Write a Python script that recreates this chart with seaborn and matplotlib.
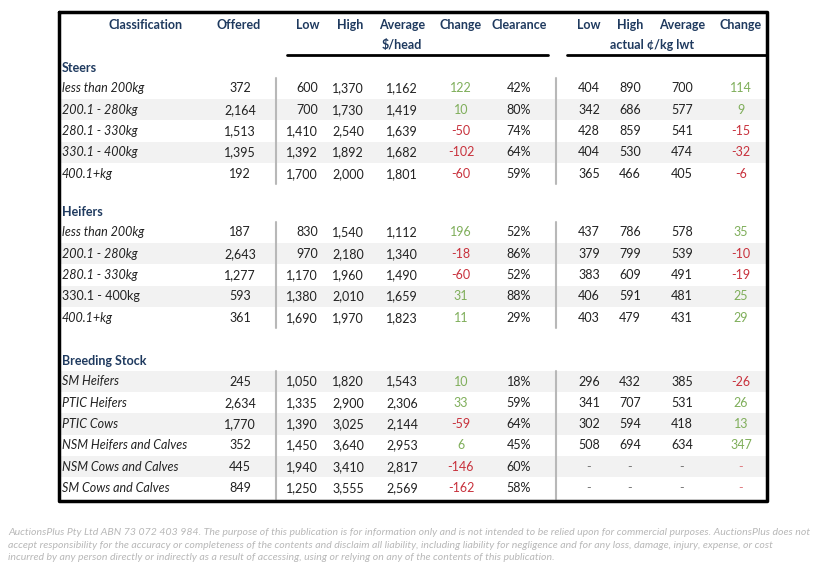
import numpy as np
import pandas as pd
import matplotlib.pyplot as plt
import seaborn as sns

sections = ["Steers", "Heifers", "Breeding Stock"]

steer_class = ["less than 200kg", "200.1 - 280kg", "280.1 - 330kg", "330.1 - 400kg", "400.1+kg"]
steer_offered = [372, 2164, 1513, 1395, 192]
steer_low = [600, 700, 1410, 1392, 1700]
steer_high = [1370, 1730, 2540, 1892, 2000]
steer_avg = [1162, 1419, 1639, 1682, 1801]
steer_change = [122, 10, -50, -102, -60]
steer_clear = [42, 80, 74, 64, 59]
steer_kg_low = [404, 342, 428, 404, 365]
steer_kg_high = [890, 686, 859, 530, 466]
steer_kg_avg = [700, 577, 541, 474, 405]
steer_kg_change = [114, 9, -15, -32, -6]

heifer_class = ["less than 200kg", "200.1 - 280kg", "280.1 - 330kg", "330.1 - 400kg", "400.1+kg"]
heifer_offered = [187, 2643, 1277, 593, 361]
heifer_low = [830, 970, 1170, 1380, 1690]
heifer_high = [1540, 2180, 1960, 2010, 1970]
heifer_avg = [1112, 1340, 1490, 1659, 1823]
heifer_change = [196, -18, -60, 31, 11]
heifer_clear = [52, 86, 52, 88, 29]
heifer_kg_low = [437, 379, 383, 406, 403]
heifer_kg_high = [786, 799, 609, 591, 479]
heifer_kg_avg = [578, 539, 491, 481, 431]
heifer_kg_change = [35, -10, -19, 25, 29]

breed_class = ["SM Heifers", "PTIC Heifers", "PTIC Cows", "NSM Heifers and Calves",
               "NSM Cows and Calves", "SM Cows and Calves"]
breed_offered = [245, 2634, 1770, 352, 445, 849]
breed_low = [1050, 1335, 1390, 1450, 1940, 1250]
breed_high = [1820, 2900, 3025, 3640, 3410, 3555]
breed_avg = [1543, 2306, 2144, 2953, 2817, 2569]
breed_change = [10, 33, -59, 6, -146, -162]
breed_clear = [18, 59, 64, 45, 60, 58]
breed_kg_low = [296, 341, 302, 508, None, None]
breed_kg_high = [432, 707, 594, 694, None, None]
breed_kg_avg = [385, 531, 418, 634, None, None]
breed_kg_change = [-26, 26, 13, 347, None, None]

headers = ["Classification", "Offered", "Low", "High", "Average", "Change", "Clearance",
           "Low", "High", "Average", "Change"]

disclaimer = ("AuctionsPlus Pty Ltd ABN 73 072 403 984. The purpose of this publication is for information only and is not intended to be relied upon for commercial purposes. AuctionsPlus does not\n"
              "accept responsibility for the accuracy or completeness of the contents and disclaim all liability, including liability for negligence and for any loss, damage, injury, expense, or cost\n"
              "incurred by any person directly or indirectly as a result of accessing, using or relying on any of the contents of this publication.")

def make_df(cls, off, lo, hi, av, ch, cl, klo, khi, kav, kch):
    return pd.DataFrame({"cls": cls, "offered": off, "low": lo, "high": hi, "avg": av,
                         "change": ch, "clear": cl, "kg_low": klo, "kg_high": khi,
                         "kg_avg": kav, "kg_change": kch})

tables = [
    make_df(steer_class, steer_offered, steer_low, steer_high, steer_avg, steer_change,
            steer_clear, steer_kg_low, steer_kg_high, steer_kg_avg, steer_kg_change),
    make_df(heifer_class, heifer_offered, heifer_low, heifer_high, heifer_avg, heifer_change,
            heifer_clear, heifer_kg_low, heifer_kg_high, heifer_kg_avg, heifer_kg_change),
    make_df(breed_class, breed_offered, breed_low, breed_high, breed_avg, breed_change,
            breed_clear, breed_kg_low, breed_kg_high, breed_kg_avg, breed_kg_change),
]

# --- styling ---
sns.set_theme(style="white")
plt.rcParams["font.family"] = ["Lato", "DejaVu Sans"]

navy = "#1f3a5f"
green = "#7fae5a"
red = "#c8313c"
shade = "#f2f2f2"
fs = 9

fig = plt.figure(figsize=(8.21, 5.65), dpi=100)
ax = fig.add_axes([0, 0, 1, 1])
ax.set_xlim(0, 821)
ax.set_ylim(565, 0)
ax.axis("off")

# column positions (x centres) and alignment
col_x = {"offered": 240, "low": 318, "high": 364, "avg": 402, "change": 461, "clear": 519,
         "kg_low": 589, "kg_high": 630, "kg_avg": 682, "kg_change": 741}
col_ha = {"low": "right", "high": "right"}
head_x = [146, 239, 308, 350, 402, 461, 519, 589, 630, 682, 741]

# header
for hx, h in zip(head_x, headers):
    ax.text(hx, 25, h, ha="center", va="center", fontsize=fs, fontweight="bold", color=navy)
ax.text(402, 45, "$/head", ha="center", va="center", fontsize=fs, fontweight="bold", color=navy)
ax.text(652, 45, "actual \u00a2/kg lwt", ha="center", va="center", fontsize=fs, fontweight="bold", color=navy)
ax.plot([287, 548], [55, 55], color="black", lw=2)
ax.plot([567, 766], [55, 55], color="black", lw=2)

sec_y = [68, 212, 361]
row_h = 21.3

def fmt(v):
    if v is None or (isinstance(v, float) and np.isnan(v)):
        return "-"
    return f"{int(v):,}"

for s, (name, df, y0) in enumerate(zip(sections, tables, sec_y)):
    ax.text(62, y0, name, ha="left", va="center", fontsize=fs, fontweight="bold", color=navy)
    first_y = y0 + 20.5
    for i, row in df.iterrows():
        y = first_y + i * row_h
        grey = (i % 2 == 1) if s < 2 else (i % 2 == 0)
        if grey:
            ax.fill_between([60, 766], y - row_h / 2, y + row_h / 2, color=shade, lw=0, zorder=0)
        italic = not (s == 1 and i == 3)
        ax.text(62, y, row["cls"], ha="left", va="center", fontsize=fs,
                style="italic" if italic else "normal", color="#222222")
        for key, x in col_x.items():
            v = row[key]
            if key == "clear":
                txt = f"{int(v)}%"
            else:
                txt = fmt(v)
            color = "#222222"
            if key in ("change", "kg_change"):
                if txt == "-":
                    color = "#e07a80"
                else:
                    color = green if v > 0 else red
            elif txt == "-":
                color = "#777777"
            ax.text(x, y, txt, ha=col_ha.get(key, "center"), va="center", fontsize=fs, color=color)
    top = first_y - row_h / 2
    bot = first_y + (len(df) - 0.5) * row_h
    ax.plot([276, 276], [top, bot], color="#b8b8b8", lw=1.5)
    ax.plot([556, 556], [top, bot], color="#b8b8b8", lw=1.5)

# outer frame
ax.plot([59, 767, 767, 59, 59], [12, 12, 501, 501, 12], color="black", lw=2.5)

ax.text(8, 545, disclaimer, ha="left", va="center", fontsize=7.55, style="italic",
        color="#b8b8b8", linespacing=1.55)

fig.savefig("out.png", dpi=100)
